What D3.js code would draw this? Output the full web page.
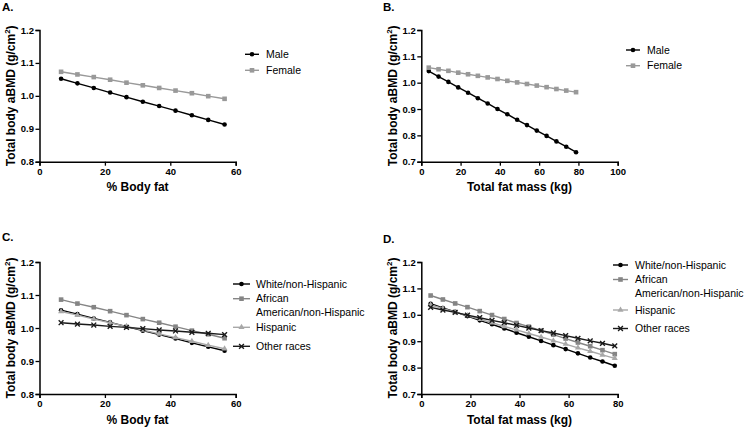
<!DOCTYPE html>
<html><head><meta charset="utf-8">
<script src="https://cdn.jsdelivr.net/npm/d3@7/dist/d3.min.js"></script>
<style>
body{margin:0;background:#fff;}
svg{display:block;font-family:"Liberation Sans",Arial,sans-serif;}
</style></head>
<body><svg id="c" width="745" height="427"></svg>
<script>
// ---- data ----
const xPctFat  = [6.6, 11.6, 16.6, 21.6, 26.6, 31.6, 36.6, 41.6, 46.6, 51.6, 56.6];
const xFatMass = [3.8, 8.8, 13.8, 18.8, 23.8, 28.8, 33.8, 38.8, 43.8, 48.8, 53.8, 58.8, 63.8, 68.8, 73.8, 78.8];

const sexLabels  = ["Male", "Female"];
const raceLabels = ["White/non-Hispanic", "African American/non-Hispanic", "Hispanic", "Other races"];

const maleA   = [1.052, 1.038, 1.024, 1.010, 0.996, 0.982, 0.969, 0.955, 0.941, 0.927, 0.913];
const femaleA = [1.073, 1.065, 1.057, 1.049, 1.040, 1.032, 1.024, 1.016, 1.008, 0.999, 0.991];

const maleB   = [1.044, 1.023, 1.003, 0.982, 0.962, 0.941, 0.921, 0.900, 0.880, 0.859, 0.839, 0.818, 0.798, 0.777, 0.757, 0.736];
const femaleB = [1.057, 1.051, 1.045, 1.038, 1.032, 1.026, 1.020, 1.014, 1.007, 1.001, 0.995, 0.989, 0.983, 0.976, 0.970, 0.964];

const whiteC    = [1.054, 1.042, 1.029, 1.017, 1.004, 0.992, 0.980, 0.968, 0.955, 0.943, 0.931];
const africanC  = [1.086, 1.074, 1.063, 1.051, 1.039, 1.027, 1.016, 1.004, 0.992, 0.981, 0.969];
const hispanicC = [1.050, 1.039, 1.027, 1.016, 1.005, 0.994, 0.982, 0.971, 0.960, 0.948, 0.937];
const otherC    = [1.016, 1.012, 1.009, 1.005, 1.002, 0.998, 0.994, 0.991, 0.987, 0.984, 0.980];

const whiteD    = [1.042, 1.026, 1.011, 0.995, 0.979, 0.964, 0.948, 0.932, 0.917, 0.901, 0.885, 0.870, 0.854, 0.838, 0.823, 0.807];
const africanD  = [1.073, 1.058, 1.043, 1.029, 1.014, 0.999, 0.984, 0.969, 0.955, 0.940, 0.925, 0.910, 0.895, 0.881, 0.866, 0.851];
const hispanicD = [1.037, 1.024, 1.010, 0.997, 0.983, 0.970, 0.956, 0.943, 0.929, 0.916, 0.902, 0.889, 0.875, 0.862, 0.848, 0.835];
const otherD    = [1.028, 1.018, 1.009, 0.999, 0.989, 0.979, 0.970, 0.960, 0.950, 0.940, 0.931, 0.921, 0.911, 0.901, 0.892, 0.882];

const xTicksPct  = [0, 20, 40, 60];
const xTicksMass100 = [0, 20, 40, 60, 80, 100];
const xTicksMass80  = [0, 20, 40, 60, 80];
const yTicks08 = [0.8, 0.9, 1.0, 1.1, 1.2];
const yTicks07 = [0.7, 0.8, 0.9, 1.0, 1.1, 1.2];

// ---- styles ----
const styles = {
  male:     {color:"#000000", marker:"circle"},
  female:   {color:"#999999", marker:"square"},
  white:    {color:"#000000", marker:"circle"},
  african:  {color:"#858585", marker:"square"},
  hispanic: {color:"#a8a8a8", marker:"triangle"},
  other:    {color:"#1a1a1a", marker:"x"}
};

const panels = [
  {label:"A.", lx:2, ly:11, xr:[39.5,235.7], yr:[161.7,30], xd:[0,60], yd:[0.8,1.2], xt:xTicksPct, yt:yTicks08,
   xTitle:"% Body fat", xs:xPctFat, series:[[maleA,"male"],[femaleA,"female"]], names:sexLabels,
   leg:{x0:245,x1:259,tx:266,ys:[[54.3],[70.3]]}},
  {label:"B.", lx:383, ly:11, xr:[421.3,617.7], yr:[161.7,30], xd:[0,100], yd:[0.7,1.2], xt:xTicksMass100, yt:yTicks07,
   xTitle:"Total fat mass (kg)", xs:xFatMass, series:[[maleB,"male"],[femaleB,"female"]], names:sexLabels,
   leg:{x0:626,x1:640,tx:647,ys:[[50],[65.7]]}},
  {label:"C.", lx:2, ly:241, xr:[39.5,235.7], yr:[394,262], xd:[0,60], yd:[0.8,1.2], xt:xTicksPct, yt:yTicks08,
   xTitle:"% Body fat", xs:xPctFat, series:[[whiteC,"white"],[africanC,"african"],[hispanicC,"hispanic"],[otherC,"other"]], names:raceLabels,
   leg:{x0:233,x1:250,tx:256,ys:[[284],[298.7,312],[327.3],[346.3]]}},
  {label:"D.", lx:383, ly:243, xr:[421.3,617.7], yr:[394,262], xd:[0,80], yd:[0.7,1.2], xt:xTicksMass80, yt:yTicks07,
   xTitle:"Total fat mass (kg)", xs:xFatMass, series:[[whiteD,"white"],[africanD,"african"],[hispanicD,"hispanic"],[otherD,"other"]], names:raceLabels,
   leg:{x0:613,x1:628,tx:635,ys:[[265],[279.5,293],[310],[328.5]]}}
];

const svg = d3.select("#c");

function drawMarker(g, type, x, y, color){
  if(type==="circle"){
    g.append("circle").attr("cx",x).attr("cy",y).attr("r",2.3).attr("fill",color);
  } else if(type==="square"){
    g.append("rect").attr("x",x-2.3).attr("y",y-2.3).attr("width",4.6).attr("height",4.6).attr("fill",color);
  } else if(type==="triangle"){
    g.append("path").attr("transform",`translate(${x},${y})`)
      .attr("d", d3.symbol(d3.symbolTriangle, 16)()).attr("fill",color);
  } else if(type==="x"){
    const s=2.4;
    g.append("path").attr("d",`M${x-s},${y-s}L${x+s},${y+s}M${x-s},${y+s}L${x+s},${y-s}`)
      .attr("stroke",color).attr("stroke-width",1.4).attr("fill","none");
  }
}

panels.forEach(p=>{
  const x = d3.scaleLinear().domain(p.xd).range(p.xr);
  const y = d3.scaleLinear().domain(p.yd).range(p.yr);
  const g = svg.append("g");

  // panel label
  g.append("text").attr("x",p.lx).attr("y",p.ly).text(p.label)
    .attr("font-size",11.5).attr("font-weight","bold");

  // axes
  const xa = g.append("g").attr("transform",`translate(0,${p.yr[0]})`)
    .call(d3.axisBottom(x).tickValues(p.xt).tickSize(4).tickPadding(2.5).tickFormat(d3.format("d")));
  const ya = g.append("g").attr("transform",`translate(${p.xr[0]},0)`)
    .call(d3.axisLeft(y).tickValues(p.yt).tickSize(4).tickPadding(1.5).tickFormat(d3.format(".1f")));
  [xa,ya].forEach(a=>{
    a.select(".domain").attr("stroke","#000").attr("stroke-width",1.5);
    a.selectAll(".tick line").attr("stroke","#000").attr("stroke-width",1.3);
    a.selectAll(".tick text").attr("font-size",9.5).attr("font-weight","bold")
      .attr("font-family","'Liberation Sans',Arial,sans-serif").attr("fill","#000");
  });

  // axis titles
  g.append("text").attr("x",(p.xr[0]+p.xr[1])/2).attr("y",p.yr[0]+29.5)
    .attr("text-anchor","middle").attr("font-size",12).attr("font-weight","bold").text(p.xTitle);
  const yt = g.append("text")
    .attr("transform",`translate(${p.xr[0]-29},${(p.yr[0]+p.yr[1])/2}) rotate(-90)`)
    .attr("text-anchor","middle").attr("dy","0.35em")
    .attr("font-size",12).attr("font-weight","bold");
  yt.append("tspan").text("Total body aBMD (g/cm");
  yt.append("tspan").attr("font-size",8).attr("dy",-4.5).text("2");
  yt.append("tspan").attr("dy",4.5).text(")");

  // series
  const line = d3.line().x((d,i)=>x(p.xs[i])).y(d=>y(d));
  p.series.forEach(([vals,key])=>{
    const st = styles[key];
    const sg = g.append("g");
    sg.append("path").datum(vals).attr("d",line).attr("fill","none")
      .attr("stroke",st.color).attr("stroke-width",1.4);
    vals.forEach((v,i)=>drawMarker(sg, st.marker, x(p.xs[i]), y(v), st.color));
  });

  // legend
  p.series.forEach(([vals,key],k)=>{
    const st = styles[key];
    const ly = p.leg.ys[k][0];
    g.append("line").attr("x1",p.leg.x0).attr("x2",p.leg.x1).attr("y1",ly).attr("y2",ly)
      .attr("stroke",st.color).attr("stroke-width",1.4);
    drawMarker(g, st.marker, (p.leg.x0+p.leg.x1)/2, ly, st.color);
    const name = p.names[k];
    const lines = p.leg.ys[k].length>1 ? [name.split(" ")[0], name.split(" ").slice(1).join(" ")] : [name];
    lines.forEach((t,j)=>{
      g.append("text").attr("x",p.leg.tx).attr("y",p.leg.ys[k][j]).attr("dy","0.35em")
        .attr("font-size",10.5).attr("fill","#000").text(t);
    });
  });
});
</script>
</body></html>
